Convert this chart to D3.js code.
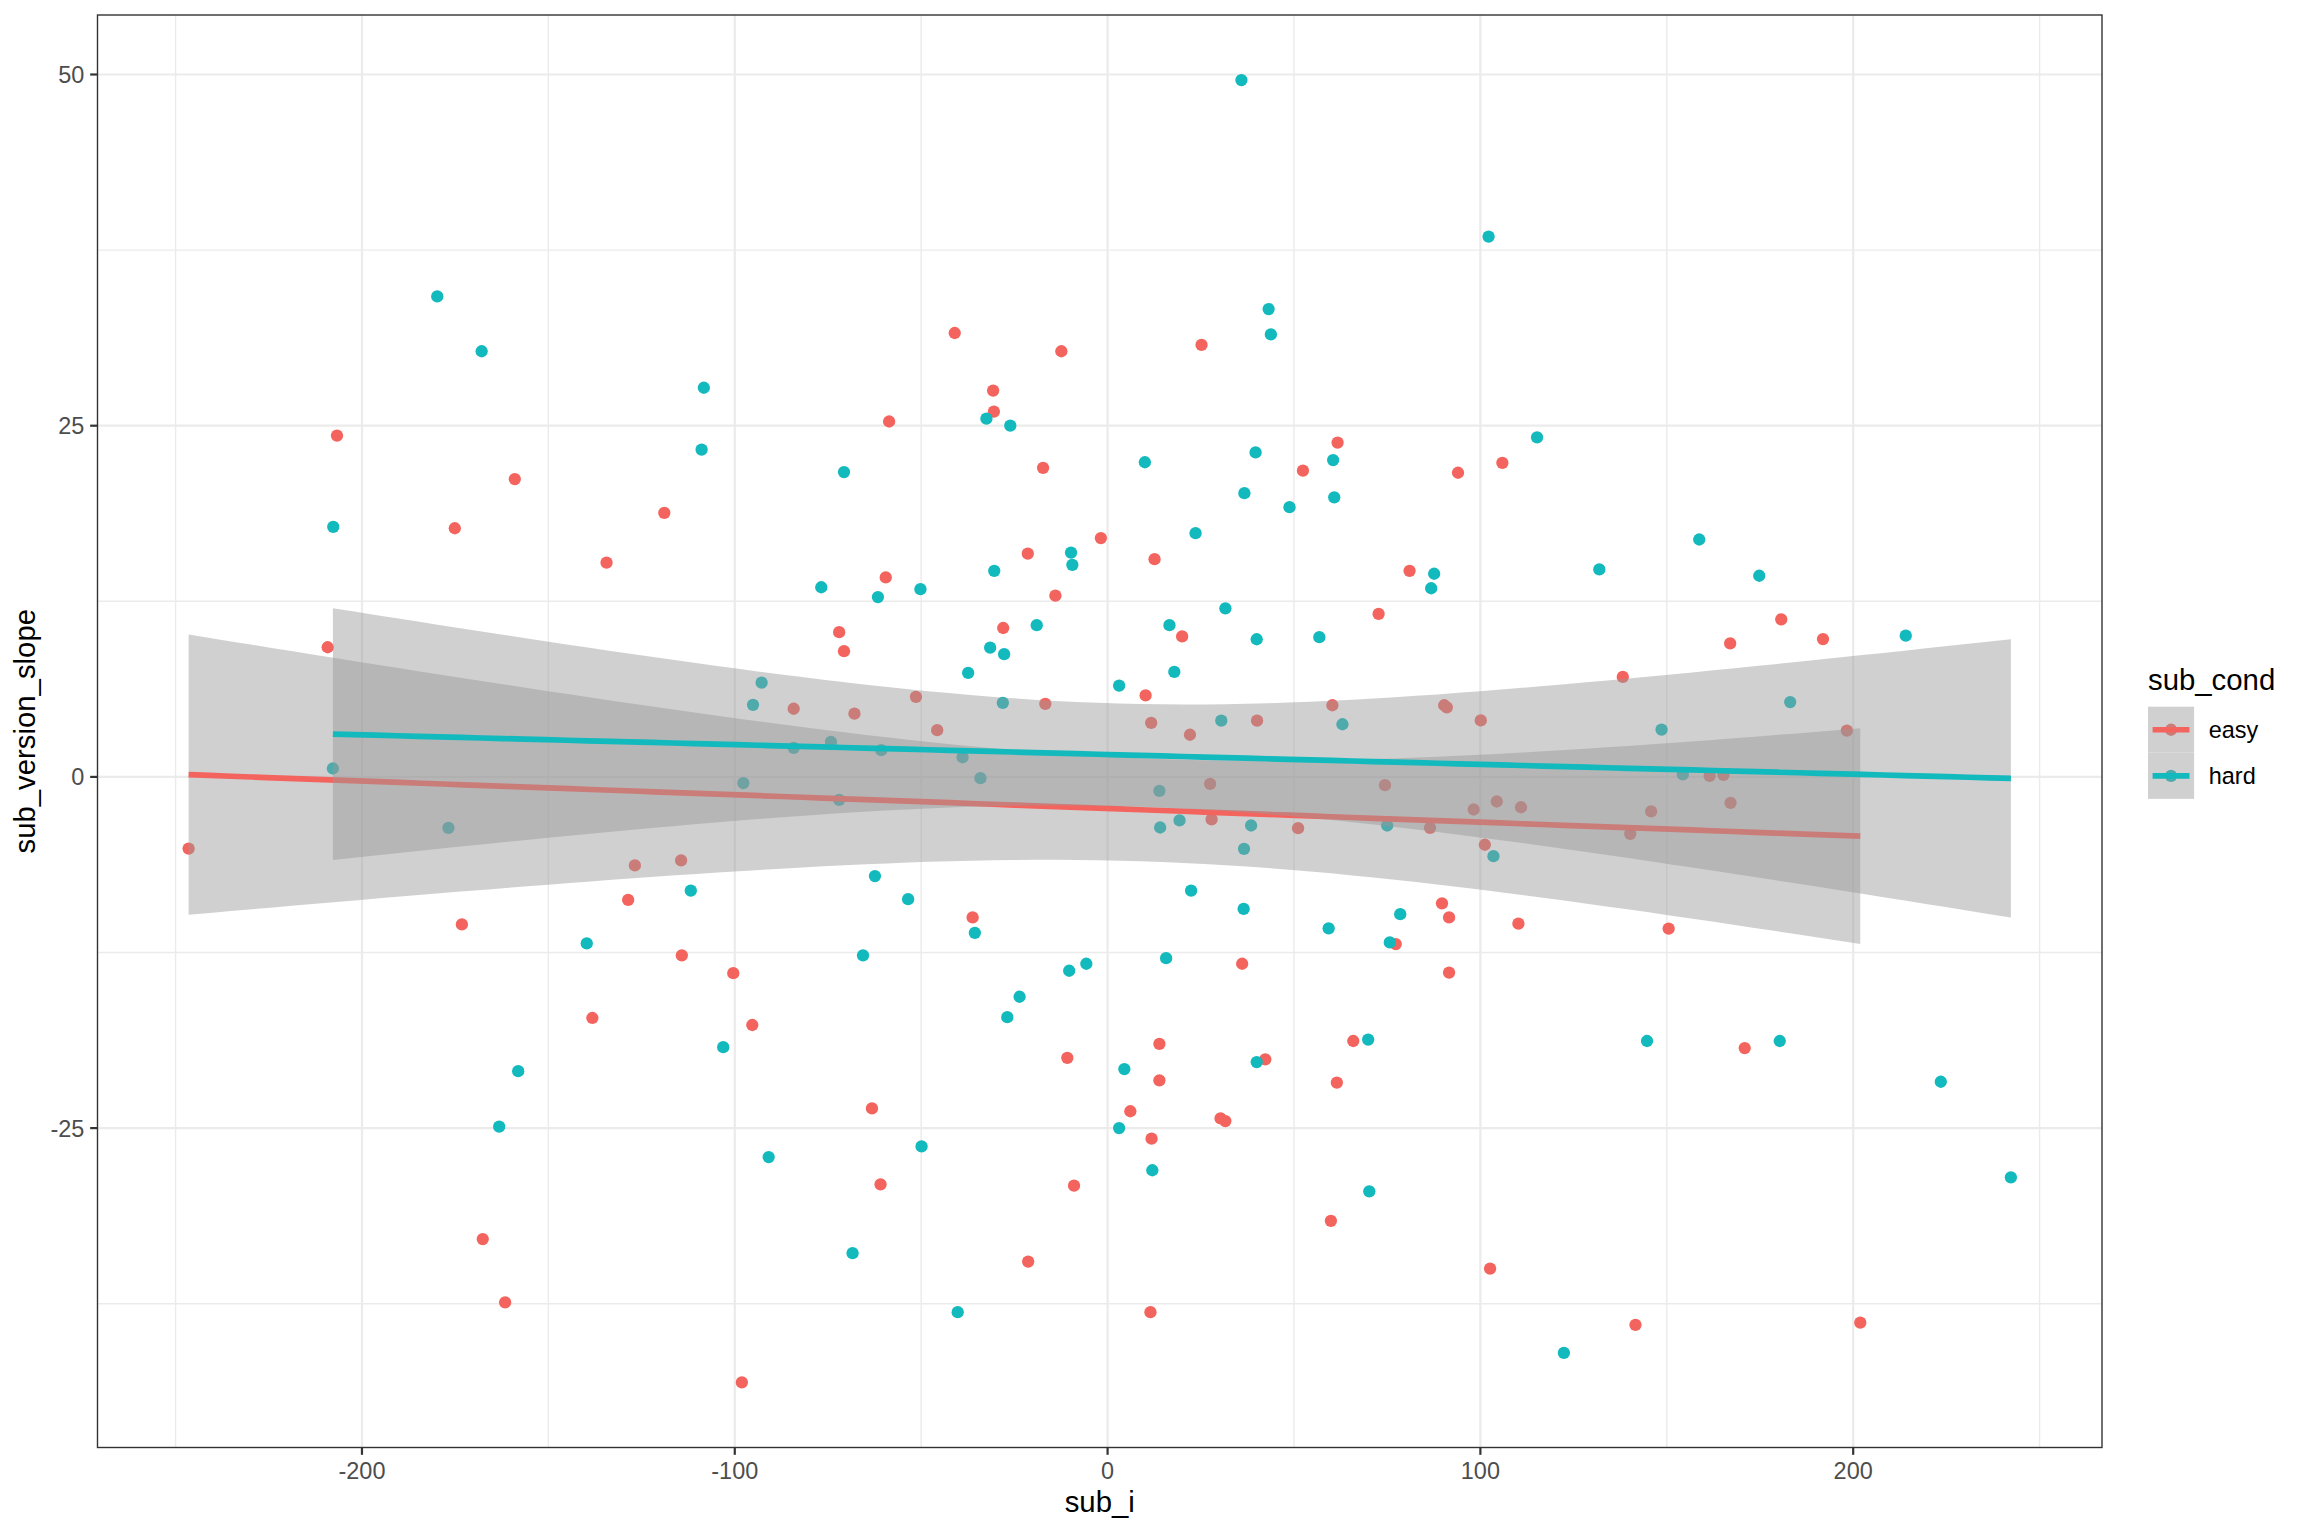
<!DOCTYPE html>
<html>
<head>
<meta charset="utf-8">
<script src="https://cdn.jsdelivr.net/npm/d3@7"></script>
<style>
  body { margin: 0; background: #ffffff; }
  text { font-family: "Liberation Sans", Arial, Helvetica, sans-serif; }
</style>
</head>
<body>
<svg id="chart"></svg>
<script>
// Points: [sub_i, sub_version_slope]
const easyPoints = [
  [-246.5, -5.1], [-209.2, 9.23], [-206.7, 24.3], [-175.1, 17.7], [-173.2, -10.5],
  [-167.6, -32.9], [-161.6, -37.4], [-159.0, 21.2], [-138.2, -17.16], [-134.4, 15.25],
  [-128.6, -8.76], [-126.8, -6.3], [-118.9, 18.8], [-114.4, -5.94], [-114.2, -12.7],
  [-100.4, -13.97], [-98.1, -43.1], [-95.3, -17.66], [-84.2, 4.85], [-72.0, 10.3],
  [-70.7, 8.95], [-67.9, 4.5], [-63.2, -23.6], [-60.9, -29.0], [-59.5, 14.2],
  [-58.6, 25.3], [-51.4, 5.7], [-45.7, 3.33], [-41.0, 31.6], [-36.2, -10.0],
  [-30.7, 27.5], [-30.5, 26.0], [-28.0, 10.6], [-21.4, 15.9], [-21.3, -34.5],
  [-17.3, 22.0], [-16.7, 5.2], [-14.0, 12.9], [-12.4, 30.3], [-10.8, -20.0],
  [-9.0, -29.1], [-1.8, 17.0], [6.1, -23.8], [10.2, 5.8], [11.5, -38.1],
  [11.7, 3.85], [11.8, -25.75], [12.6, 15.5], [13.9, -19.0], [13.9, -21.6],
  [20.0, 10.0], [22.1, 3.0], [25.2, 30.75], [27.5, -0.5], [27.9, -3.03],
  [30.3, -24.3], [31.6, -24.5], [36.1, -13.3], [40.1, 4.0], [42.3, -20.1],
  [51.1, -3.65], [52.4, 21.8], [59.9, -31.6], [60.3, 5.1], [61.5, -21.76],
  [61.7, 23.8], [65.9, -18.8], [72.7, 11.6], [74.4, -0.59], [77.3, -11.9],
  [81.0, 14.67], [86.5, -3.63], [89.7, -9.0], [90.3, 5.1], [91.0, 4.95],
  [91.6, -10.0], [91.6, -13.93], [94.0, 21.65], [98.2, -2.32], [100.1, 4.02],
  [101.2, -4.83], [102.6, -35.0], [104.4, -1.75], [105.9, 22.35], [110.2, -10.45],
  [110.9, -2.16], [138.2, 7.12], [140.2, -4.05], [141.6, -39.0], [145.8, -2.46],
  [150.5, -10.8], [161.5, 0.07], [165.2, 0.14], [167.0, 9.5], [167.1, -1.85],
  [170.9, -19.3], [180.7, 11.22], [191.9, 9.81], [198.3, 3.3], [201.9, -38.85]
];

const hardPoints = [
  [-207.8, 0.6], [-207.7, 17.8], [-179.8, 34.2], [-176.8, -3.63], [-167.9, 30.3],
  [-163.2, -24.9], [-158.1, -20.95], [-139.7, -11.85], [-111.8, -8.1], [-108.9, 23.3],
  [-108.3, 27.7], [-103.1, -19.24], [-97.7, -0.44], [-95.1, 5.13], [-92.8, 6.71],
  [-90.9, -27.06], [-84.2, 2.06], [-76.8, 13.5], [-74.2, 2.5], [-72.0, -1.64],
  [-70.7, 21.7], [-68.4, -33.9], [-65.6, -12.7], [-62.4, -7.06], [-61.6, 12.8],
  [-60.7, 1.9], [-53.5, -8.7], [-50.2, 13.36], [-49.9, -26.3], [-40.2, -38.1],
  [-38.9, 1.4], [-37.4, 7.4], [-35.6, -11.1], [-34.1, -0.09], [-32.5, 25.5],
  [-31.5, 9.2], [-30.4, 14.67], [-28.1, 5.27], [-27.75, 8.74], [-26.9, -17.1],
  [-26.1, 25.0], [-23.6, -15.65], [-19.0, 10.8], [-10.3, -13.8], [-9.8, 15.97],
  [-9.45, 15.1], [-5.7, -13.3], [3.1, -25.0], [3.1, 6.5], [4.5, -20.8],
  [10.0, 22.4], [12.0, -28.0], [13.9, -1.0], [14.1, -3.6], [15.7, -12.9],
  [16.6, 10.8], [17.9, 7.47], [19.3, -3.1], [22.4, -8.1], [23.6, 17.35],
  [30.5, 4.0], [31.6, 12.0], [35.9, 49.6], [36.5, -9.4], [36.6, -5.12],
  [36.7, 20.2], [38.5, -3.46], [39.7, 23.1], [40.0, 9.8], [40.0, -20.3],
  [43.2, 33.3], [43.8, 31.5], [48.8, 19.2], [56.8, 9.95], [59.3, -10.78],
  [60.5, 22.55], [60.8, 19.9], [63.0, 3.75], [69.9, -18.7], [70.2, -29.5],
  [75.0, -3.46], [75.7, -11.78], [78.5, -9.77], [86.8, 13.43], [87.6, 14.46],
  [102.2, 38.46], [103.5, -5.64], [115.2, 24.17], [122.4, -41.0], [131.9, 14.77],
  [144.7, -18.8], [148.6, 3.37], [154.3, 0.18], [158.7, 16.9], [174.8, 14.32],
  [180.3, -18.8], [183.1, 5.33], [214.1, 10.05], [223.5, -21.7], [242.3, -28.5]
];

const groupNames = ['easy', 'hard'];
const groupColors = ['#F4645F', '#12B9BD'];

const xBreaks = [-200, -100, 0, 100, 200];
const xTickLabels = ['-200', '-100', '0', '100', '200'];
const xMinorBreaks = [-250, -150, -50, 50, 150, 250];
const yBreaks = [-25, 0, 25, 50];
const yTickLabels = ['-25', '0', '25', '50'];
const yMinorBreaks = [-37.5, -12.5, 12.5, 37.5];

// Page and panel geometry (192 dpi, so 1pt = 2.667px)
const W = 2304, H = 1536;
const panel = { left: 97.5, top: 15, right: 2102, bottom: 1447.5 };
const pt = 192 / 72;

const svg = d3.select('#chart')
  .attr('width', W)
  .attr('height', H)
  .attr('viewBox', `0 0 ${W} ${H}`)
  .style('display', 'block');

svg.append('rect').attr('width', W).attr('height', H).attr('fill', '#ffffff');

// ggplot style 5% expansion of the data range
function expanded(values) {
  const [lo, hi] = d3.extent(values);
  const pad = (hi - lo) * 0.05;
  return [lo - pad, hi + pad];
}

const allPoints = easyPoints.concat(hardPoints);
const xScale = d3.scaleLinear()
  .domain(expanded(allPoints.map(d => d[0])))
  .range([panel.left, panel.right]);
const yScale = d3.scaleLinear()
  .domain(expanded(allPoints.map(d => d[1])))
  .range([panel.bottom, panel.top]);

// two-sided 95% t critical value (Cornish-Fisher expansion)
function tCrit(df) {
  const z = 1.959964;
  const g1 = (z ** 3 + z) / 4;
  const g2 = (5 * z ** 5 + 16 * z ** 3 + 3 * z) / 96;
  const g3 = (3 * z ** 7 + 19 * z ** 5 + 17 * z ** 3 - 15 * z) / 384;
  return z + g1 / df + g2 / df ** 2 + g3 / df ** 3;
}

// linear fit with confidence band, like geom_smooth(method = "lm")
function lmBand(pts) {
  const n = pts.length;
  const mx = d3.mean(pts, d => d[0]);
  const my = d3.mean(pts, d => d[1]);
  const sxx = d3.sum(pts, d => (d[0] - mx) ** 2);
  const sxy = d3.sum(pts, d => (d[0] - mx) * (d[1] - my));
  const b = sxy / sxx;
  const a = my - b * mx;
  const s = Math.sqrt(d3.sum(pts, d => (d[1] - a - b * d[0]) ** 2) / (n - 2));
  const t = tCrit(n - 2);
  const [x0, x1] = d3.extent(pts, d => d[0]);
  return d3.range(80).map(i => {
    const x = x0 + (x1 - x0) * i / 79;
    const fit = a + b * x;
    const se = s * Math.sqrt(1 / n + (x - mx) ** 2 / sxx);
    return { x, fit, lo: fit - t * se, hi: fit + t * se };
  });
}

// Panel background and grid
svg.append('defs').append('clipPath').attr('id', 'panel-clip')
  .append('rect')
  .attr('x', panel.left).attr('y', panel.top)
  .attr('width', panel.right - panel.left)
  .attr('height', panel.bottom - panel.top);

const grid = svg.append('g').attr('clip-path', 'url(#panel-clip)');
const gridColor = '#EBEBEB';

grid.selectAll('.xminor').data(xMinorBreaks).enter().append('line')
  .attr('x1', d => xScale(d)).attr('x2', d => xScale(d))
  .attr('y1', panel.top).attr('y2', panel.bottom)
  .attr('stroke', gridColor).attr('stroke-width', 1.4);
grid.selectAll('.yminor').data(yMinorBreaks).enter().append('line')
  .attr('y1', d => yScale(d)).attr('y2', d => yScale(d))
  .attr('x1', panel.left).attr('x2', panel.right)
  .attr('stroke', gridColor).attr('stroke-width', 1.4);
grid.selectAll('.xmajor').data(xBreaks).enter().append('line')
  .attr('x1', d => xScale(d)).attr('x2', d => xScale(d))
  .attr('y1', panel.top).attr('y2', panel.bottom)
  .attr('stroke', gridColor).attr('stroke-width', 2.2);
grid.selectAll('.ymajor').data(yBreaks).enter().append('line')
  .attr('y1', d => yScale(d)).attr('y2', d => yScale(d))
  .attr('x1', panel.left).attr('x2', panel.right)
  .attr('stroke', gridColor).attr('stroke-width', 2.2);

// Layers: points first, then each group's ribbon and line
const layer = svg.append('g').attr('clip-path', 'url(#panel-clip)');
const groupData = [easyPoints, hardPoints];

groupData.forEach((pts, i) => {
  layer.append('g').selectAll('circle').data(pts).enter().append('circle')
    .attr('cx', d => xScale(d[0]))
    .attr('cy', d => yScale(d[1]))
    .attr('r', 6.15)
    .attr('fill', groupColors[i]);
});

const area = d3.area()
  .x(d => xScale(d.x))
  .y0(d => yScale(d.lo))
  .y1(d => yScale(d.hi));
const line = d3.line()
  .x(d => xScale(d.x))
  .y(d => yScale(d.fit));

const ribbonOpacity = 0.46;
groupData.forEach((pts, i) => {
  const band = lmBand(pts);
  layer.append('path').datum(band)
    .attr('d', area)
    .attr('fill', '#999999')
    .attr('fill-opacity', ribbonOpacity);
  layer.append('path').datum(band)
    .attr('d', line)
    .attr('fill', 'none')
    .attr('stroke', groupColors[i])
    .attr('stroke-width', 5.69);
});

// Panel border
svg.append('rect')
  .attr('x', panel.left).attr('y', panel.top)
  .attr('width', panel.right - panel.left)
  .attr('height', panel.bottom - panel.top)
  .attr('fill', 'none')
  .attr('stroke', '#333333')
  .attr('stroke-width', 1.4);

// Axes
const tickLen = 2.75 * pt;
const axisColor = '#333333';
const tickSize = 8.8 * pt;
const titleSize = 11 * pt;

const xAxis = svg.append('g');
xAxis.selectAll('line').data(xBreaks).enter().append('line')
  .attr('x1', d => xScale(d)).attr('x2', d => xScale(d))
  .attr('y1', panel.bottom).attr('y2', panel.bottom + tickLen)
  .attr('stroke', axisColor).attr('stroke-width', 2.2);
xAxis.selectAll('text').data(xBreaks).enter().append('text')
  .attr('x', d => xScale(d))
  .attr('y', 1478.5)
  .attr('text-anchor', 'middle')
  .attr('font-size', tickSize)
  .attr('fill', '#4D4D4D')
  .text((d, i) => xTickLabels[i]);

const yAxis = svg.append('g');
yAxis.selectAll('line').data(yBreaks).enter().append('line')
  .attr('y1', d => yScale(d)).attr('y2', d => yScale(d))
  .attr('x1', panel.left - tickLen).attr('x2', panel.left)
  .attr('stroke', axisColor).attr('stroke-width', 2.2);
yAxis.selectAll('text').data(yBreaks).enter().append('text')
  .attr('x', panel.left - tickLen - 2.2 * pt)
  .attr('y', d => yScale(d))
  .attr('dy', '0.36em')
  .attr('text-anchor', 'end')
  .attr('font-size', tickSize)
  .attr('fill', '#4D4D4D')
  .text((d, i) => yTickLabels[i]);

// Axis titles
svg.append('text')
  .attr('x', (panel.left + panel.right) / 2)
  .attr('y', 1512)
  .attr('text-anchor', 'middle')
  .attr('font-size', titleSize)
  .attr('fill', '#000000')
  .text('sub_i');

svg.append('text')
  .attr('transform', `translate(35,${(panel.top + panel.bottom) / 2}) rotate(-90)`)
  .attr('text-anchor', 'middle')
  .attr('font-size', titleSize)
  .attr('fill', '#000000')
  .text('sub_version_slope');

// Legend
const keySize = 17.28 * pt;
const legend = svg.append('g').attr('transform', 'translate(2148,706.7)');
legend.append('text')
  .attr('x', 0).attr('y', -16.5)
  .attr('font-size', titleSize)
  .attr('fill', '#000000')
  .text('sub_cond');

groupNames.forEach((name, i) => {
  const key = legend.append('g').attr('transform', `translate(0,${i * keySize})`);
  key.append('rect')
    .attr('width', keySize).attr('height', keySize)
    .attr('fill', '#ffffff');
  key.append('circle')
    .attr('cx', keySize / 2).attr('cy', keySize / 2)
    .attr('r', 6.15)
    .attr('fill', groupColors[i]);
  key.append('rect')
    .attr('width', keySize).attr('height', keySize)
    .attr('fill', '#999999').attr('fill-opacity', ribbonOpacity);
  key.append('line')
    .attr('x1', keySize * 0.1).attr('x2', keySize * 0.9)
    .attr('y1', keySize / 2).attr('y2', keySize / 2)
    .attr('stroke', groupColors[i])
    .attr('stroke-width', 5.69);
  legend.append('text')
    .attr('x', keySize + 5.5 * pt)
    .attr('y', i * keySize + keySize / 2)
    .attr('dy', '0.36em')
    .attr('font-size', tickSize)
    .attr('fill', '#000000')
    .text(name);
});
</script>
</body>
</html>
